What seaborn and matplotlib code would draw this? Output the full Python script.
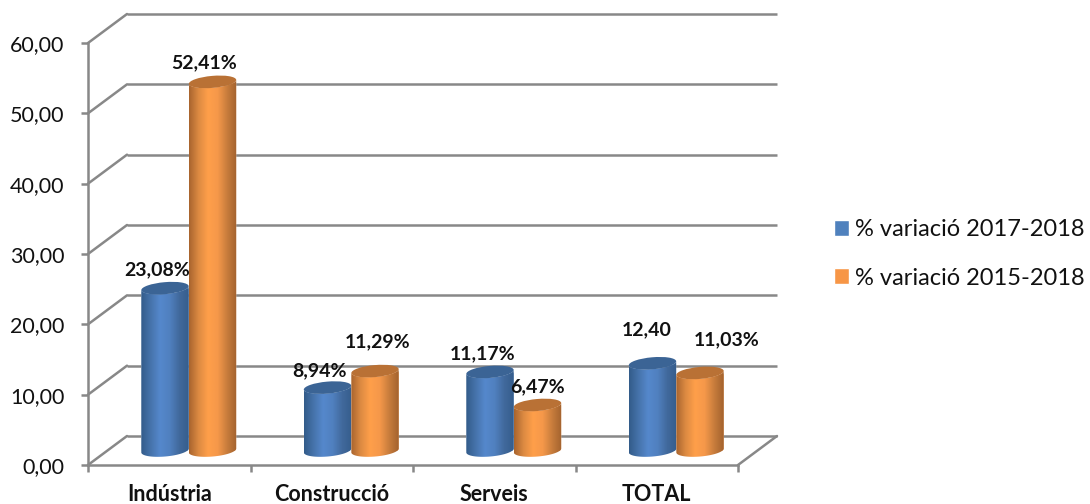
import numpy as np
import pandas as pd
import seaborn as sns
import matplotlib
matplotlib.use("Agg")
import matplotlib.pyplot as plt
from matplotlib.colors import LinearSegmentedColormap
from matplotlib.lines import Line2D
from matplotlib.patches import Ellipse
from matplotlib.path import Path
from matplotlib.transforms import IdentityTransform, offset_copy

categories = ["Indústria", "Construcció", "Serveis", "TOTAL"]
series_names = ["% variació 2017-2018", "% variació 2015-2018"]
values_2017 = [23.08, 8.94, 11.17, 12.40]
values_2015 = [52.41, 11.29, 6.47, 11.03]
labels_2017 = ["23,08%", "8,94%", "11,17%", "12,40"]
labels_2015 = ["52,41%", "11,29%", "6,47%", "11,03%"]
y_ticks = [0, 10, 20, 30, 40, 50, 60]

# label shift from the top of each cylinder, in points
label_shift_2017 = [(-6, 13), (-6, 12), (-5, 13), (-4, 24)]
label_shift_2015 = [(-6, 14), (2, 21), (0, 13), (19, 24)]

W, H = 1090, 504
GRID = "#888888"
TEXT = "#111111"
BACK_DX, BACK_DY = 39, 29
ELL_H = 12
TILT = 5

sns.set_theme(style="white")
plt.rcParams["font.family"] = ["Lato", "DejaVu Sans"]

fig = plt.figure(figsize=(W / 100, H / 100), dpi=100)
fig.patch.set_facecolor("white")


def axes_box(x0, x1, y_top, y_bot):
    return [x0 / W, 1 - y_bot / H, (x1 - x0) / W, (y_bot - y_top) / H]


# front plane: axis lines, ticks and tick labels
ax = fig.add_axes(axes_box(88, 738, 43, 465))
ax.set_xlim(-0.5, 3.5)
ax.set_ylim(0, 60)
ax.patch.set_alpha(0)
sns.despine(ax=ax)
for side in ["left", "bottom"]:
    ax.spines[side].set_color(GRID)
    ax.spines[side].set_linewidth(1.8)
ax.set_yticks(y_ticks, [f"{t:.2f}".replace(".", ",") for t in y_ticks])
ax.tick_params(axis="y", left=True, length=5, width=1.8, color=GRID, pad=12,
               labelsize=15.5, labelcolor=TEXT)
ax.set_xticks(np.arange(-0.5, 4, 1), [""] * 5)
ax.tick_params(axis="x", which="major", bottom=True, length=5, width=1.8, color=GRID)
ax.set_xticks(range(len(categories)), categories, minor=True)
ax.tick_params(axis="x", which="minor", bottom=False, pad=10, labelsize=15.5, labelcolor=TEXT)
for t in ax.get_xticklabels(minor=True):
    t.set_fontweight("bold")

# back wall and the slanted lines that join it to the front
back = offset_copy(ax.transData, fig=fig, x=BACK_DX, y=BACK_DY, units="dots")
ax.hlines(y_ticks, -0.5, 3.5, transform=back, color=GRID, lw=1.8, clip_on=False)
corners = [(-0.5, t) for t in y_ticks] + [(3.5, 0)]
for c in corners:
    px, py = ax.transData.transform(c)
    fig.add_artist(Line2D([px, px + BACK_DX], [py, py + BACK_DY], color=GRID, lw=1.8,
                          transform=IdentityTransform()))

# cylinders stand half way between the front and the back wall
mid = fig.add_axes(axes_box(88 + BACK_DX / 2, 738 + BACK_DX / 2, 43 - BACK_DY / 2, 465 - BACK_DY / 2))
mid.patch.set_alpha(0)

df = pd.DataFrame({
    "categoria": categories * 2,
    "valor": values_2017 + values_2015,
    "serie": [series_names[0]] * 4 + [series_names[1]] * 4,
})
palette = {series_names[0]: "#4f81bd", series_names[1]: "#f79646"}
sns.barplot(data=df, x="categoria", y="valor", hue="serie", palette=palette, order=categories,
            width=0.585, gap=0, saturation=1, ax=mid)
handles, legend_labels = mid.get_legend_handles_labels()
mid.get_legend().remove()
mid.set_xlim(-0.5, 3.5)
mid.set_ylim(0, 60)
mid.axis("off")

body_cmaps = [
    LinearSegmentedColormap.from_list("b", ["#335b89", "#4673ab", "#5588cc", "#5080bf", "#41699c", "#355d8c"]),
    LinearSegmentedColormap.from_list("o", ["#a8642e", "#dc8a42", "#ff9f4a", "#f5984a", "#c77c3c", "#a2622e"]),
]
top_colors = ["#3b6495", "#b97135"]
gradient = np.linspace(0, 1, 256)[None, :]


def ellipse_points(cx, cy, w, h, start, stop):
    t = np.radians(np.linspace(start, stop, 60))
    x, y = w / 2 * np.cos(t), h / 2 * np.sin(t)
    a = np.radians(TILT)
    return np.column_stack([cx + x * np.cos(a) - y * np.sin(a), cy + x * np.sin(a) + y * np.cos(a)])


all_shifts = [label_shift_2017, label_shift_2015]
all_labels = [labels_2017, labels_2015]
for s, container in enumerate(mid.containers):
    for i, bar in enumerate(container):
        x0, y0 = mid.transData.transform((bar.get_x(), 0))
        x1, y1 = mid.transData.transform((bar.get_x() + bar.get_width(), bar.get_height()))
        w = x1 - x0
        cx = (x0 + x1) / 2
        # outline: top half of the cap, then bottom half ellipse
        lower = ellipse_points(cx, y0, w, ELL_H, 360, 180)
        top = ellipse_points(cx, y1, w, ELL_H, 180, 360)
        outline = np.vstack([top, lower, top[:1]])
        clip = Path(outline)
        bar.set_clip_path(clip, IdentityTransform())
        im = mid.imshow(gradient, cmap=body_cmaps[s], aspect="auto", zorder=3 + s,
                        extent=(bar.get_x(), bar.get_x() + bar.get_width(), -3, bar.get_height() + 3))
        # imshow keeps the axes box as clip, the base ellipse hangs below it
        im.set_clip_box(fig.bbox)
        im.set_clip_path(clip, IdentityTransform())
        mid.add_patch(Ellipse((cx, y1), w, ELL_H, angle=TILT, facecolor=top_colors[s], edgecolor="none",
                              transform=IdentityTransform(), zorder=3.5 + s, clip_on=False))
        mid.annotate(all_labels[s][i], (bar.get_x() + bar.get_width() / 2, bar.get_height()),
                     xytext=all_shifts[s][i], textcoords="offset points", ha="center", va="center",
                     fontsize=14, fontweight="bold", color=TEXT, zorder=10, annotation_clip=False)
mid.set_xlim(-0.5, 3.5)
mid.set_ylim(0, 60)

fig.legend(handles, legend_labels, loc="center left", bbox_to_anchor=(834 / W, 1 - 254 / H), frameon=False,
           fontsize=17, handlelength=0.64, handleheight=0.64, handletextpad=0.25, labelspacing=1.15,
           labelcolor=TEXT, borderpad=0, borderaxespad=0)

fig.savefig("out.png", dpi=100)
